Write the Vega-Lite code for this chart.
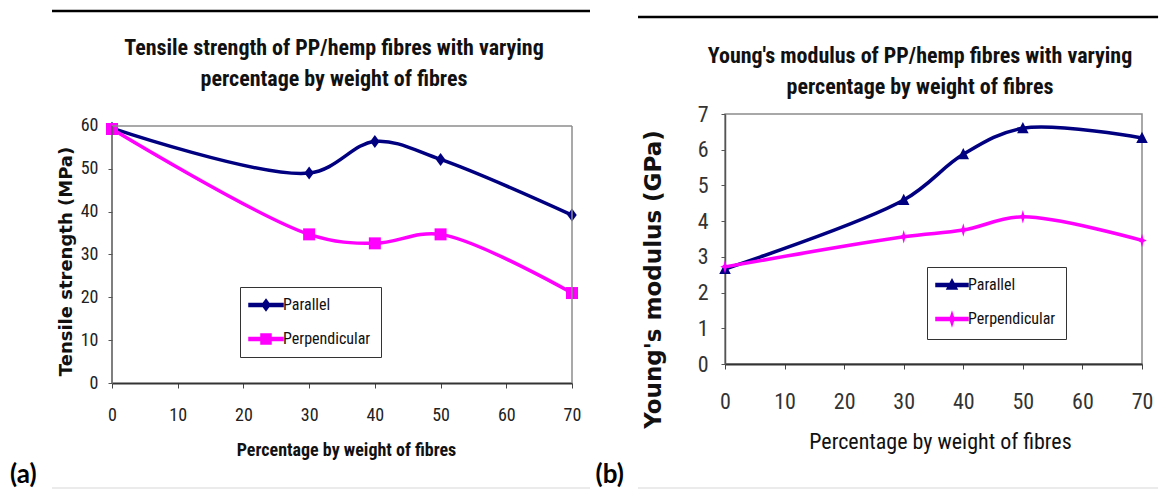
{
  "$schema": "https://vega.github.io/schema/vega-lite/v6.json",
  "padding": {"left": 10, "top": 9, "right": 0, "bottom": 0},
  "background": "white",
  "datasets": {
    "tensile": [
      {"pct": 0, "value": 59.5, "series": "Parallel"},
      {"pct": 30, "value": 49.0, "series": "Parallel"},
      {"pct": 40, "value": 56.4, "series": "Parallel"},
      {"pct": 50, "value": 52.2, "series": "Parallel"},
      {"pct": 70, "value": 39.2, "series": "Parallel"},
      {"pct": 0, "value": 59.3, "series": "Perpendicular"},
      {"pct": 30, "value": 34.7, "series": "Perpendicular"},
      {"pct": 40, "value": 32.6, "series": "Perpendicular"},
      {"pct": 50, "value": 34.7, "series": "Perpendicular"},
      {"pct": 70, "value": 21.0, "series": "Perpendicular"}
    ],
    "modulus": [
      {"pct": 0, "value": 2.66, "series": "Parallel"},
      {"pct": 30, "value": 4.59, "series": "Parallel"},
      {"pct": 40, "value": 5.87, "series": "Parallel"},
      {"pct": 50, "value": 6.6, "series": "Parallel"},
      {"pct": 70, "value": 6.33, "series": "Parallel"},
      {"pct": 0, "value": 2.72, "series": "Perpendicular"},
      {"pct": 30, "value": 3.56, "series": "Perpendicular"},
      {"pct": 40, "value": 3.75, "series": "Perpendicular"},
      {"pct": 50, "value": 4.12, "series": "Perpendicular"},
      {"pct": 70, "value": 3.46, "series": "Perpendicular"}
    ]
  },
  "hconcat": [
    {
      "width": 460,
      "height": 269,
      "view": {"stroke": null},
      "data": {"name": "tensile"},
      "layer": [
        {
          "mark": {"type": "line", "interpolate": "catmull-rom", "strokeWidth": 3.5},
          "encoding": {
            "x": {
              "field": "pct", "type": "quantitative",
              "scale": {"domain": [0, 70], "nice": false, "zero": false},
              "axis": {
                "values": [0, 10, 20, 30, 40, 50, 60, 70],
                "tickCount": 8,
                "title": "Percentage by weight of fibres",
                "titleFont": "Liberation Sans Narrow, Arial Narrow, Roboto Condensed, Liberation Sans, sans-serif",
                "titleFontSize": 18, "titleFontWeight": "bold", "titleColor": "#111", "titlePadding": 17,
                "titleX": 234,
                "labelFont": "Liberation Sans Narrow, Arial Narrow, Roboto Condensed, Liberation Sans, sans-serif",
                "labelFontSize": 18, "labelColor": "#222", "labelPadding": 18, "labelFlush": false, "labelOverlap": false,
                "tickSize": 5, "tickColor": "#444", "domainColor": "#333", "domainWidth": 2
              }
            },
            "y": {
              "field": "value", "type": "quantitative",
              "scale": {"domain": [0, 62.8], "nice": false},
              "axis": {
                "values": [0, 10, 20, 30, 40, 50, 60],
                "tickCount": 7,
                "title": "Tensile strength (MPa)",
                "titleFont": "DejaVu Sans", "titleFontSize": 18, "titleFontWeight": "bold", "titleColor": "#111", "titlePadding": 5,
                "titleY": 147,
                "labelFont": "Liberation Sans Narrow, Arial Narrow, Roboto Condensed, Liberation Sans, sans-serif",
                "labelFontSize": 18, "labelColor": "#222", "labelPadding": 10, "labelFlush": false, "labelOverlap": false,
                "tickSize": 4, "tickColor": "#555", "domain": false
              }
            },
            "color": {
              "field": "series", "type": "nominal",
              "scale": {"domain": ["Parallel", "Perpendicular"], "range": ["#000080", "#ff00ff"]},
              "legend": {
                "orient": "none", "legendX": 128, "legendY": 173,
                "title": null, "padding": 10, "rowPadding": 17,
                "fillColor": "white", "strokeColor": "#333",
                "symbolSize": 100, "symbolOffset": 8, "labelOffset": 9,
                "labelFont": "Liberation Sans Narrow, Arial Narrow, Roboto Condensed, Liberation Sans, sans-serif",
                "labelFontSize": 16, "labelColor": "#111",
                "encode": {
                  "symbols": {
                    "update": {
                      "shape": {"signal": "datum.value === 'Parallel' ? 'M-3.4,-0.3H3.4V0.3H-3.4ZM0,-1.1L0.8,0L0,1.1L-0.8,0Z' : 'M-3.4,-0.3H3.4V0.3H-3.4ZM-1,-1H1V1H-1Z'"},
                      "fill": {"signal": "datum.value === 'Parallel' ? '#000080' : '#ff00ff'"},
                      "stroke": {"value": "transparent"},
                      "opacity": {"value": 1},
                      "fillOpacity": {"value": 1}
                    }
                  }
                }
              }
            }
          }
        },
        {
          "transform": [{"filter": "datum.series === 'Parallel'"}],
          "mark": {"type": "point", "filled": true, "size": 100, "opacity": 1, "shape": "M0,-1.3L0.95,0L0,1.3L-0.95,0Z"},
          "encoding": {
            "x": {"field": "pct", "type": "quantitative"},
            "y": {"field": "value", "type": "quantitative"},
            "color": {"field": "series", "type": "nominal", "legend": null}
          }
        },
        {
          "transform": [{"filter": "datum.series === 'Perpendicular'"}],
          "mark": {"type": "point", "filled": true, "size": 100, "opacity": 1, "shape": "M-1.2,-1.2H1.2V1.2H-1.2Z"},
          "encoding": {
            "x": {"field": "pct", "type": "quantitative"},
            "y": {"field": "value", "type": "quantitative"},
            "color": {"field": "series", "type": "nominal", "legend": null}
          }
        },
        {
          "data": {"values": [{}]},
          "mark": {"type": "rule", "color": "#8c8c8c", "strokeWidth": 1.5},
          "encoding": {
            "x": {"datum": 0, "type": "quantitative"},
            "x2": {"datum": 70},
            "y": {"datum": 60, "type": "quantitative"}
          }
        },
        {
          "data": {"values": [{}]},
          "mark": {"type": "rule", "color": "#8c8c8c", "strokeWidth": 1.5},
          "encoding": {
            "x": {"datum": 70, "type": "quantitative"},
            "y": {"datum": 0, "type": "quantitative"},
            "y2": {"datum": 60}
          }
        },
        {
          "data": {"values": [{}]},
          "mark": {"type": "rule", "color": "#555", "strokeWidth": 1.5},
          "encoding": {
            "x": {"datum": 0, "type": "quantitative"},
            "y": {"datum": 0, "type": "quantitative"},
            "y2": {"datum": 60}
          }
        },
        {
          "data": {"values": [{}]},
          "mark": {"type": "rule", "color": "#000", "strokeWidth": 2.5, "clip": false},
          "encoding": {
            "x": {"datum": -9.13, "type": "quantitative"},
            "x2": {"datum": 72.74},
            "y": {"datum": 86.85, "type": "quantitative"}
          }
        },
        {
          "data": {"values": [{}]},
          "mark": {"type": "rule", "color": "#e4e4e4", "strokeWidth": 1.5, "clip": false},
          "encoding": {
            "x": {"datum": -9.13, "type": "quantitative"},
            "x2": {"datum": 72.74},
            "y": {"datum": -24.5, "type": "quantitative"}
          }
        },
        {
          "data": {"values": [{}]},
          "mark": {"type": "text", "text": "(a)", "font": "Lato", "fontWeight": "bold", "fontSize": 26, "align": "left", "baseline": "middle", "color": "#000", "clip": false},
          "encoding": {
            "x": {"datum": -15.52, "type": "quantitative"},
            "y": {"datum": -21.5, "type": "quantitative"}
          }
        },
        {
          "data": {"values": [{}]},
          "mark": {
            "type": "text",
            "text": ["Tensile strength of PP/hemp fibres with varying", "percentage by weight of fibres"],
            "font": "Liberation Sans Narrow, Arial Narrow, Roboto Condensed, Liberation Sans, sans-serif",
            "fontSize": 22, "fontWeight": "bold", "color": "#111", "lineHeight": 31,
            "align": "center", "baseline": "middle", "clip": false
          },
          "encoding": {
            "x": {"datum": 33.78, "type": "quantitative"},
            "y": {"datum": 78.21, "type": "quantitative"}
          }
        }
      ]
    },
    {
      "width": 417,
      "height": 250,
      "data": {"name": "modulus"},
      "layer": [
        {
          "mark": {"type": "line", "interpolate": "catmull-rom", "strokeWidth": 3.5},
          "encoding": {
            "x": {
              "field": "pct", "type": "quantitative",
              "scale": {"domain": [0, 70], "nice": false, "zero": false},
              "axis": {
                "values": [0, 10, 20, 30, 40, 50, 60, 70],
                "tickCount": 8,
                "title": "Percentage by weight of fibres",
                "titleFont": "Liberation Sans Narrow, Arial Narrow, Roboto Condensed, Liberation Sans, sans-serif",
                "titleFontSize": 22, "titleFontWeight": "normal", "titleColor": "#111", "titlePadding": 19,
                "titleX": 215,
                "labelFont": "Liberation Sans Narrow, Arial Narrow, Roboto Condensed, Liberation Sans, sans-serif",
                "labelFontSize": 22, "labelColor": "#333", "labelPadding": 22, "labelFlush": false, "labelOverlap": false,
                "tickSize": 5, "tickColor": "#444", "domainColor": "#333", "domainWidth": 2
              }
            },
            "y": {
              "field": "value", "type": "quantitative",
              "scale": {"domain": [0, 7], "nice": false},
              "axis": {
                "values": [0, 1, 2, 3, 4, 5, 6, 7],
                "tickCount": 8,
                "title": "Young's modulus (GPa)",
                "titleFont": "DejaVu Sans", "titleFontSize": 23, "titleFontWeight": "bold", "titleColor": "#111", "titlePadding": 32,
                "titleY": 165,
                "labelFont": "Liberation Sans Narrow, Arial Narrow, Roboto Condensed, Liberation Sans, sans-serif",
                "labelFontSize": 22, "labelColor": "#333", "labelPadding": 13, "labelFlush": false, "labelOverlap": false,
                "tickSize": 4, "tickColor": "#555", "domainColor": "#555", "domainWidth": 1.5
              }
            },
            "color": {
              "field": "series", "type": "nominal",
              "scale": {"domain": ["Parallel", "Perpendicular"], "range": ["#000080", "#ff00ff"]},
              "legend": {
                "orient": "none", "legendX": 202, "legendY": 153,
                "title": null, "padding": 10, "rowPadding": 16,
                "fillColor": "white", "strokeColor": "#333",
                "symbolSize": 100, "symbolOffset": 7, "labelOffset": 8,
                "labelFont": "Liberation Sans Narrow, Arial Narrow, Roboto Condensed, Liberation Sans, sans-serif",
                "labelFontSize": 16, "labelColor": "#111",
                "encode": {
                  "symbols": {
                    "update": {
                      "shape": {"signal": "datum.value === 'Parallel' ? 'M-3.2,-0.3H3.2V0.3H-3.2ZM0,-1.1L1,0.8L-1,0.8Z' : 'M-3.2,-0.3H3.2V0.3H-3.2ZM0,-1.25L0.3,-0.3L0.95,0L0.3,0.3L0,1.25L-0.3,0.3L-0.95,0L-0.3,-0.3Z'"},
                      "fill": {"signal": "datum.value === 'Parallel' ? '#000080' : '#ff00ff'"},
                      "stroke": {"value": "transparent"},
                      "opacity": {"value": 1},
                      "fillOpacity": {"value": 1}
                    }
                  }
                }
              }
            }
          }
        },
        {
          "transform": [{"filter": "datum.series === 'Parallel'"}],
          "mark": {"type": "point", "filled": true, "size": 100, "opacity": 1, "shape": "M0,-1.25L1.15,1L-1.15,1Z"},
          "encoding": {
            "x": {"field": "pct", "type": "quantitative"},
            "y": {"field": "value", "type": "quantitative"},
            "color": {"field": "series", "type": "nominal", "legend": null}
          }
        },
        {
          "transform": [{"filter": "datum.series === 'Perpendicular'"}],
          "mark": {"type": "point", "filled": true, "size": 100, "opacity": 1, "shape": "M0,-1.35L0.3,-0.3L0.95,0L0.3,0.3L0,1.35L-0.3,0.3L-0.95,0L-0.3,-0.3Z"},
          "encoding": {
            "x": {"field": "pct", "type": "quantitative"},
            "y": {"field": "value", "type": "quantitative"},
            "color": {"field": "series", "type": "nominal", "legend": null}
          }
        },
        {
          "data": {"values": [{}]},
          "mark": {"type": "rule", "color": "#000", "strokeWidth": 2.5, "clip": false},
          "encoding": {
            "x": {"datum": -14.6, "type": "quantitative"},
            "x2": {"datum": 72.7},
            "y": {"datum": 9.716, "type": "quantitative"}
          }
        },
        {
          "data": {"values": [{}]},
          "mark": {"type": "rule", "color": "#e4e4e4", "strokeWidth": 1.5, "clip": false},
          "encoding": {
            "x": {"datum": -14.6, "type": "quantitative"},
            "x2": {"datum": 72.7},
            "y": {"datum": -3.47, "type": "quantitative"}
          }
        },
        {
          "data": {"values": [{}]},
          "mark": {"type": "text", "text": "(b)", "font": "Lato", "fontWeight": "bold", "fontSize": 26, "align": "left", "baseline": "middle", "color": "#000", "clip": false},
          "encoding": {
            "x": {"datum": -21.74, "type": "quantitative"},
            "y": {"datum": -3.11, "type": "quantitative"}
          }
        },
        {
          "data": {"values": [{}]},
          "mark": {
            "type": "text",
            "text": ["Young's modulus of PP/hemp fibres with varying", "percentage by weight of fibres"],
            "font": "Liberation Sans Narrow, Arial Narrow, Roboto Condensed, Liberation Sans, sans-serif",
            "fontSize": 22, "fontWeight": "bold", "color": "#111", "lineHeight": 31,
            "align": "center", "baseline": "middle", "clip": false
          },
          "encoding": {
            "x": {"datum": 32.73, "type": "quantitative"},
            "y": {"datum": 8.624, "type": "quantitative"}
          }
        }
      ]
    }
  ],
  "spacing": 153,
  "bounds": "flush",
  "resolve": {
    "scale": {"color": "independent", "shape": "independent"},
    "legend": {"color": "independent", "shape": "independent"}
  },
  "config": {
    "view": {"stroke": "#8c8c8c", "strokeWidth": 1.5},
    "axis": {"grid": false}
  }
}
